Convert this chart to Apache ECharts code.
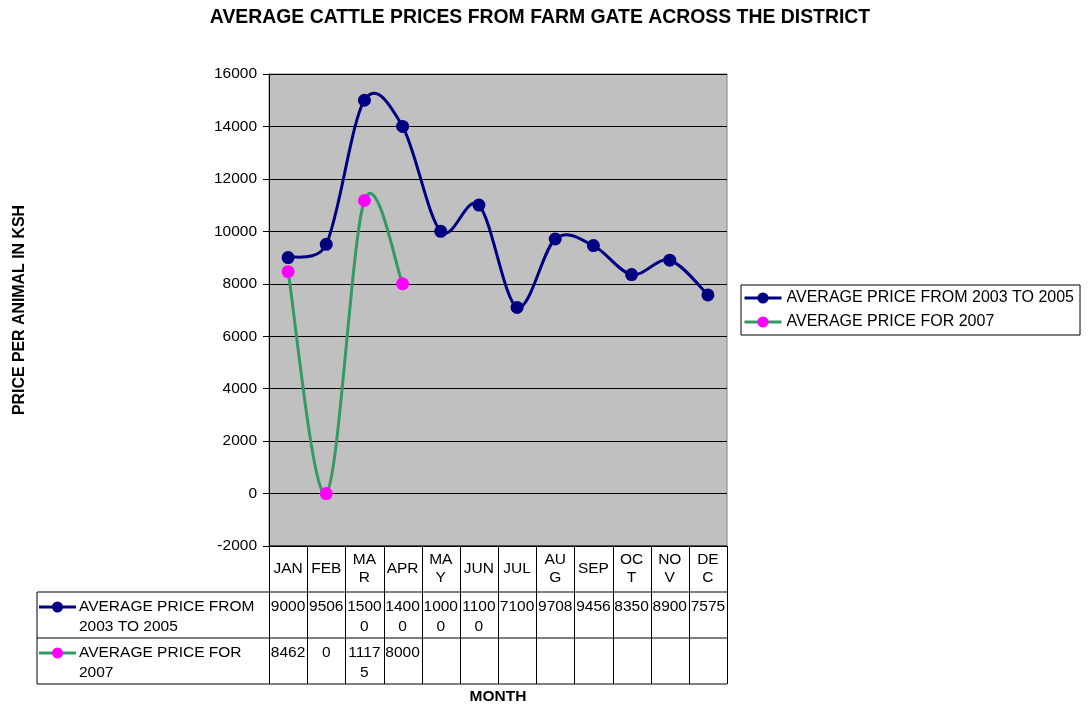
<!DOCTYPE html>
<html><head><meta charset="utf-8">
<script src="https://cdn.jsdelivr.net/npm/echarts/dist/echarts.min.js"></script>
<style>html,body{margin:0;padding:0;background:#fff}#c{width:1089px;height:706px}</style>
</head><body><div id="c"></div>
<script>
const chartTitle = 'AVERAGE CATTLE PRICES FROM FARM GATE ACROSS THE DISTRICT';
const yAxisTitle = 'PRICE PER ANIMAL IN KSH';
const xAxisTitle = 'MONTH';
const months = ['JAN','FEB','MAR','APR','MAY','JUN','JUL','AUG','SEP','OCT','NOV','DEC'];
const seriesNames = ['AVERAGE PRICE FROM 2003 TO 2005','AVERAGE PRICE FOR 2007'];
const avg2003to2005 = [9000,9506,15000,14000,10000,11000,7100,9708,9456,8350,8900,7575];
const avg2007 = [8462,0,11175,8000];
const yMin = -2000, yMax = 16000, yStep = 2000;

const FONT = 'Liberation Sans, Arial, sans-serif';
const FS = 15.5;
const colors = {s1Line:'#000080', s1Mark:'#000080', s2Line:'#339966', s2Mark:'#FF00FF'};
const G = {left:269, top:74, width:458, height:472};

// Excel-style smoothed segment (cubic Bezier, tangent/6, limited to half the segment), positioned through the axes
function smoothSegment(vals, color) {
  const cp = (pPrev, p, pNext, pSeg, sign) => {
    const tx = pNext[0] - pPrev[0], ty = pNext[1] - pPrev[1];
    const tl = Math.hypot(tx, ty);
    if (tl === 0) return [p[0], p[1]];
    const seg = Math.hypot(pSeg[0] - p[0], pSeg[1] - p[1]);
    const d = Math.min(tl / 6, seg / 2);
    return [p[0] + sign * tx / tl * d, p[1] + sign * ty / tl * d];
  };
  return function (params, api) {
    const i = api.value(0);
    const n = vals.length;
    const P = k => { const j = Math.max(0, Math.min(n - 1, k)); return api.coord([j, vals[j]]); };
    const p0 = P(i - 1), p1 = P(i), p2 = P(i + 1), p3 = P(i + 2);
    const c1 = cp(p0, p1, p2, p2, 1);
    const c2 = cp(p1, p2, p3, p1, -1);
    return {
      type:'bezierCurve', silent:true,
      shape:{x1:p1[0], y1:p1[1], x2:p2[0], y2:p2[1], cpx1:c1[0], cpy1:c1[1], cpx2:c2[0], cpy2:c2[1]},
      style:{stroke:color, lineWidth:3, fill:'none', lineCap:'round'}
    };
  };
}
const segs = vals => vals.slice(0, -1).map((v, i) => [i, v]);

const chart = echarts.init(document.getElementById('c'), null, {renderer:'canvas'});
chart.setOption({
  animation:false,
  backgroundColor:'#ffffff',
  textStyle:{fontFamily:FONT},
  grid:{left:G.left, top:G.top, width:G.width, height:G.height, show:true, backgroundColor:'#C0C0C0', borderColor:'#808080', borderWidth:1, containLabel:false},
  legend:{
    left:741, top:285, orient:'vertical',
    borderColor:'#000', borderWidth:1, padding:[5,6,5,2],
    itemWidth:37, itemHeight:14, itemGap:8,
    lineStyle:{opacity:1, width:3},
    textStyle:{fontSize:16, color:'#000', fontFamily:FONT},
    data:seriesNames.map(n => ({name:n, lineStyle:{opacity:1, width:3}}))
  },
  xAxis:{type:'category', data:months, boundaryGap:true,
    axisLine:{show:false}, axisTick:{show:false}, axisLabel:{show:false}, splitLine:{show:false}},
  yAxis:{type:'value', min:yMin, max:yMax, interval:yStep,
    axisLine:{show:true, lineStyle:{color:'#000', width:1}},
    axisTick:{show:true, length:6, lineStyle:{color:'#000'}},
    axisLabel:{color:'#000', fontSize:FS, fontFamily:FONT, margin:12, formatter:v => String(v)},
    splitLine:{show:true, lineStyle:{color:'#000', width:1}}},
  series:[
    {name:'curve1', type:'custom', z:2, data:segs(avg2003to2005), renderItem:smoothSegment(avg2003to2005, colors.s1Line)},
    {name:'curve2', type:'custom', z:2, data:segs(avg2007), renderItem:smoothSegment(avg2007, colors.s2Line)},
    {name:seriesNames[0], type:'line', z:3, data:avg2003to2005, symbol:'circle', symbolSize:13,
     lineStyle:{color:colors.s1Line, width:3, opacity:0}, itemStyle:{color:colors.s1Mark}},
    {name:seriesNames[1], type:'line', z:3, data:avg2007, symbol:'circle', symbolSize:13,
     lineStyle:{color:colors.s2Line, width:3, opacity:0}, itemStyle:{color:colors.s2Mark}}
  ]
});

// Data table below the plot, built from the arrays and the axis scales
const g = [];
const yBottom = chart.convertToPixel({yAxisIndex:0}, yMin);
const cellW = G.width / months.length;
const rowH = 46;
const tableLeft = 37;
const r0 = yBottom, r1 = r0 + rowH, r2 = r1 + rowH, r3 = r2 + rowH;
const line = (x1,y1,x2,y2) => ({type:'line', silent:true, shape:{x1,y1,x2,y2}, style:{stroke:'#000', lineWidth:1}});
g.push(line(G.left, r0, G.left + G.width, r0));
[r1, r2, r3].forEach(y => g.push(line(tableLeft, y, G.left + G.width, y)));
g.push(line(tableLeft, r1, tableLeft, r3));
for (let k = 0; k <= months.length; k++) {
  const x = Math.round(G.left + k * cellW) + 0.5;
  g.push(line(x, r0, x, r3));
}
months.forEach((m, i) => {
  const cx = chart.convertToPixel({xAxisIndex:0}, i);
  g.push({type:'text', silent:true, x:cx, y:(r0 + r1) / 2,
    style:{text:m, fontSize:FS, fontFamily:FONT, fill:'#000', align:'center', verticalAlign:'middle',
      width:32.3, overflow:'breakAll', lineHeight:18}});
});
const rows = [{vals:avg2003to2005, top:r1, line:colors.s1Line, mark:colors.s1Mark, name:seriesNames[0]},
              {vals:avg2007, top:r2, line:colors.s2Line, mark:colors.s2Mark, name:seriesNames[1]}];
rows.forEach(r => {
  const ly = r.top + 15;
  g.push({type:'line', silent:true, shape:{x1:39, y1:ly, x2:76, y2:ly}, style:{stroke:r.line, lineWidth:3}});
  g.push({type:'circle', silent:true, shape:{cx:57.5, cy:ly, r:5.5}, style:{fill:r.mark}});
  g.push({type:'text', silent:true, x:79, y:r.top + 5,
    style:{text:r.name, fontSize:FS, fontFamily:FONT, fill:'#000', align:'left', verticalAlign:'top',
      width:186, overflow:'break', lineHeight:20}});
  r.vals.forEach((v, i) => {
    const cx = chart.convertToPixel({xAxisIndex:0}, i);
    g.push({type:'text', silent:true, x:cx, y:r.top + 5,
      style:{text:String(v), fontSize:FS, fontFamily:FONT, fill:'#000', align:'center', verticalAlign:'top',
        width:36, overflow:'breakAll', lineHeight:20}});
  });
});
// Titles
g.push({type:'text', silent:true, x:540, y:18,
  style:{text:chartTitle, fontSize:19.4, fontWeight:'bold', fontFamily:FONT, fill:'#000', align:'center', verticalAlign:'middle'}});
g.push({type:'text', silent:true, x:G.left + G.width / 2, y:697,
  style:{text:xAxisTitle, fontSize:15.5, fontWeight:'bold', fontFamily:FONT, fill:'#000', align:'center', verticalAlign:'middle'}});
g.push({type:'text', silent:true, x:20, y:G.top + G.height / 2, rotation:Math.PI / 2,
  style:{text:yAxisTitle, fontSize:15.9, fontWeight:'bold', fontFamily:FONT, fill:'#000', align:'center', verticalAlign:'middle'}});
chart.setOption({graphic:g});
</script></body></html>
